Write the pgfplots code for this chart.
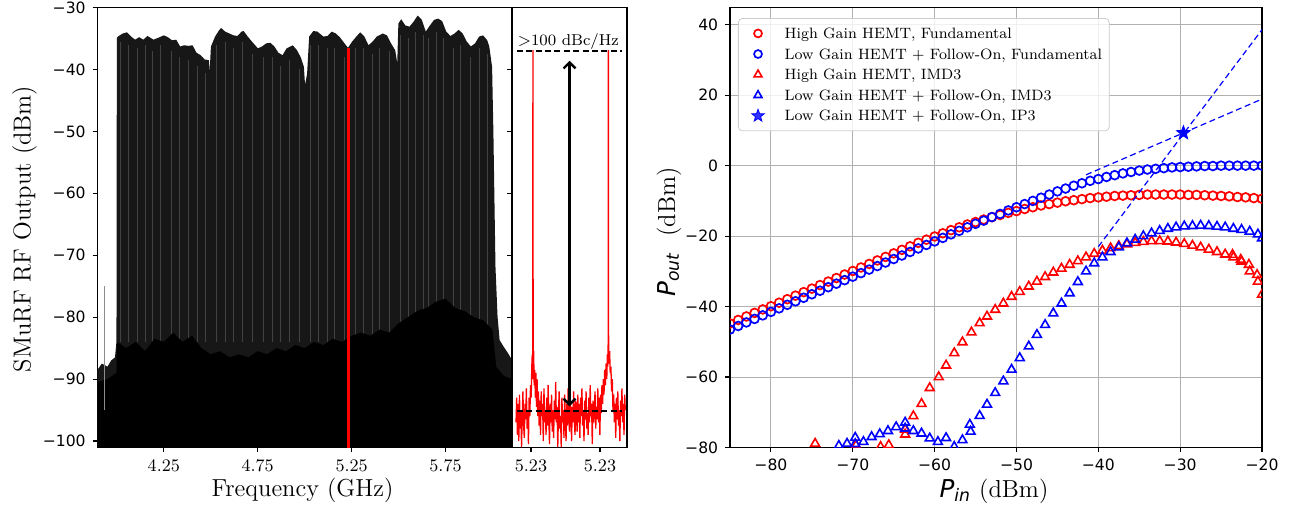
\documentclass[border=0pt]{standalone}
\usepackage{fontspec}
\usepackage{pgfplots}
\pgfplotsset{compat=1.18}
\usetikzlibrary{arrows.meta}
\newfontfamily\djv{DejaVu Sans}

% filled five-point star, like matplotlib's '*'
\pgfdeclareplotmark{fstar}{%
  \pgfpathmoveto{\pgfpointpolar{90}{\pgfplotmarksize}}%
  \pgfpathlineto{\pgfpointpolar{126}{0.42\pgfplotmarksize}}%
  \pgfpathlineto{\pgfpointpolar{162}{\pgfplotmarksize}}%
  \pgfpathlineto{\pgfpointpolar{198}{0.42\pgfplotmarksize}}%
  \pgfpathlineto{\pgfpointpolar{234}{\pgfplotmarksize}}%
  \pgfpathlineto{\pgfpointpolar{270}{0.42\pgfplotmarksize}}%
  \pgfpathlineto{\pgfpointpolar{306}{\pgfplotmarksize}}%
  \pgfpathlineto{\pgfpointpolar{342}{0.42\pgfplotmarksize}}%
  \pgfpathlineto{\pgfpointpolar{18}{\pgfplotmarksize}}%
  \pgfpathlineto{\pgfpointpolar{54}{0.42\pgfplotmarksize}}%
  \pgfpathclose\pgfusepathqfillstroke}

\pgfplotsset{
  every axis/.append style={
    scale only axis, anchor=south west,
    axis line style={line width=0.55pt},
    tick style={line width=0.55pt, black},
    major tick length=2.4pt, tick align=outside,
    xtick pos=left, ytick pos=left,
  },
}
\newcommand{\tickcm}{\fontsize{8.8}{10}\selectfont}
\newcommand{\tickdj}{\djv\fontsize{7.8}{9}\selectfont}
\newcommand{\labfont}{\fontsize{12.3}{14}\selectfont}

\begin{document}
\begin{tikzpicture}
\useasboundingbox (0,0) rectangle (644.5pt,254pt);

% ---------------- left: full comb spectrum ----------------
\begin{axis}[
  at={(48.75pt,30.25pt)}, width=207.25pt, height=220pt,
  xmin=3.897, xmax=6.104, ymin=-101.05, ymax=-30,
  xtick={4.25,4.75,5.25,5.75}, xticklabels={4.25,4.75,5.25,5.75},
  xticklabel style={font=\tickcm},
  ytick={-100,-90,-80,-70,-60,-50,-40,-30},
  yticklabels={−100,−90,−80,−70,−60,−50,−40,−30},
  yticklabel style={font=\tickdj},
  unbounded coords=jump,
]
% upper envelope of the tones
\addplot[fill=black!91, draw=none] coordinates {
(3.897,-102) (3.897,-88.5) (3.92,-87.5) (3.95,-88) (3.97,-87) (3.99,-86.5) (3.998,-84)
(4.000,-34.9) (4.010,-34.6) (4.032,-34.2) (4.054,-34.0) (4.076,-34.7) (4.097,-35.2)
(4.119,-34.8) (4.141,-35.2) (4.163,-34.6) (4.195,-35.2) (4.228,-34.8) (4.250,-34.5)
(4.272,-34.8) (4.294,-35.3) (4.316,-35.2) (4.337,-36.3) (4.359,-36.1) (4.381,-36.2)
(4.403,-36.1) (4.424,-37.3) (4.446,-37.7) (4.468,-38.4) (4.490,-38.5) (4.494,-40.4)
(4.501,-36.3) (4.523,-34.7) (4.544,-33.7) (4.555,-33.3) (4.577,-33.9) (4.599,-34.2)
(4.621,-34.5) (4.642,-34.6) (4.664,-33.9) (4.675,-33.8) (4.697,-34.7) (4.719,-35.5)
(4.751,-36.6) (4.773,-36.3) (4.795,-35.8) (4.817,-35.7) (4.839,-36.3) (4.860,-37.3)
(4.882,-37.7) (4.904,-36.6) (4.937,-36.1) (4.959,-36.9) (4.980,-38.1) (4.996,-39.6)
(5.002,-42.5) (5.013,-40.7) (5.024,-34.7) (5.046,-33.8) (5.068,-33.9) (5.100,-34.7)
(5.122,-34.6) (5.144,-33.9) (5.166,-34.2) (5.187,-34.8) (5.220,-36.1) (5.231,-36.5)
(5.253,-35.5) (5.275,-34.7) (5.296,-34.0) (5.318,-34.7) (5.340,-36.1) (5.362,-35.5)
(5.384,-34.7) (5.416,-34.2) (5.438,-34.5) (5.460,-35.8) (5.482,-36.9) (5.493,-39.0)
(5.499,-32.6) (5.514,-31.9) (5.536,-32.9) (5.558,-33.1) (5.580,-32.3) (5.602,-31.3)
(5.624,-32.0) (5.645,-33.9) (5.667,-32.9) (5.689,-32.0) (5.711,-31.8) (5.732,-32.2)
(5.754,-33.9) (5.776,-34.6) (5.798,-34.2) (5.820,-33.6) (5.841,-34.2) (5.863,-35.5)
(5.885,-36.3) (5.907,-35.8) (5.929,-34.7) (5.950,-34.5) (5.972,-35.3) (5.983,-36.3)
(5.998,-39.6) (6.005,-50.3) (6.016,-71.9) (6.027,-79.9) (6.038,-83.7) (6.060,-84.8)
(6.082,-85.8) (6.104,-86.9) (6.104,-102)
} -- cycle;
% a few lighter tone lines
\addplot[black!74, line width=0.3pt] coordinates {
(4.02,-84) (4.02,-35.5) (4.02,nan) (4.06,-84) (4.06,-36) (4.06,nan) (4.11,-84) (4.11,-36.5) (4.11,nan)
(4.15,-84) (4.15,-36) (4.15,nan) (4.19,-84) (4.19,-37) (4.19,nan) (4.23,-84) (4.23,-36) (4.23,nan)
(4.29,-84) (4.29,-37) (4.29,nan) (4.33,-84) (4.33,-38) (4.33,nan) (4.38,-84) (4.38,-38.5) (4.38,nan)
(4.43,-84) (4.43,-39.5) (4.43,nan) (4.47,-84) (4.47,-40.5) (4.47,nan) (4.53,-84) (4.53,-36) (4.53,nan)
(4.58,-84) (4.58,-35.5) (4.58,nan) (4.62,-84) (4.62,-36.5) (4.62,nan) (4.67,-84) (4.67,-35.5) (4.67,nan)
(4.72,-84) (4.72,-37.5) (4.72,nan) (4.78,-84) (4.78,-38) (4.78,nan) (4.83,-84) (4.83,-38) (4.83,nan)
(4.87,-84) (4.87,-39.5) (4.87,nan) (4.92,-84) (4.92,-38.5) (4.92,nan) (4.97,-84) (4.97,-40) (4.97,nan)
(5.03,-84) (5.03,-36) (5.03,nan) (5.07,-84) (5.07,-36) (5.07,nan) (5.12,-84) (5.12,-36.5) (5.12,nan)
(5.16,-84) (5.16,-36.5) (5.16,nan) (5.21,-84) (5.21,-38) (5.21,nan) (5.27,-84) (5.27,-36.5) (5.27,nan)
(5.31,-84) (5.31,-36.5) (5.31,nan) (5.36,-84) (5.36,-37.5) (5.36,nan) (5.40,-84) (5.40,-36.5) (5.40,nan)
(5.45,-84) (5.45,-37) (5.45,nan) (5.51,-84) (5.51,-34.5) (5.51,nan) (5.55,-84) (5.55,-35) (5.55,nan)
(5.59,-84) (5.59,-34) (5.59,nan) (5.63,-84) (5.63,-34.5) (5.63,nan) (5.66,-84) (5.66,-35) (5.66,nan)
(5.70,-84) (5.70,-34) (5.70,nan) (5.74,-84) (5.74,-35) (5.74,nan) (5.79,-84) (5.79,-36.5) (5.79,nan)
(5.83,-84) (5.83,-36) (5.83,nan) (5.88,-84) (5.88,-38) (5.88,nan) (5.93,-84) (5.93,-36.5) (5.93,nan)
(5.97,-84) (5.97,-37.5)
};
% solid noise floor
\addplot[fill=black, draw=none] coordinates {
(3.897,-102) (3.897,-90.5) (3.95,-90) (3.998,-89) (4.00,-84) (4.05,-85) (4.10,-84)
(4.15,-85.5) (4.20,-83.5) (4.25,-84) (4.30,-82.5) (4.35,-84) (4.40,-83) (4.45,-85)
(4.50,-86) (4.55,-85.5) (4.60,-86.5) (4.65,-86) (4.70,-86.5) (4.75,-85.5) (4.80,-86)
(4.85,-85) (4.90,-85.5) (4.95,-84.5) (5.00,-85) (5.05,-84) (5.10,-84.5) (5.15,-83.5)
(5.20,-84) (5.25,-83) (5.30,-82.5) (5.35,-83) (5.40,-82) (5.45,-82.5) (5.50,-81)
(5.55,-80) (5.60,-79) (5.65,-78.5) (5.70,-77.5) (5.75,-77) (5.80,-78.5) (5.85,-79)
(5.90,-80) (5.95,-80.5) (6.00,-82) (6.02,-88) (6.06,-89.5) (6.104,-90) (6.104,-102)
} -- cycle;
\addplot[black!45, line width=0.4pt] coordinates {(3.932,-95) (3.932,-75)};
\addplot[red, line width=1.4pt] coordinates {(5.232,-102) (5.232,-36.5)};
\end{axis}

% ---------------- left inset: one tone ----------------
\begin{axis}[
  at={(256pt,30.25pt)}, width=57.5pt, height=220pt,
  xmin=0, xmax=1, ymin=-101.05, ymax=-30,
  xtick={0.165,0.765}, xticklabels={5.23,5.23},
  xticklabel style={font=\tickcm},
  ytick={-100,-90,-80,-70,-60,-50,-40,-30}, yticklabels={},
]
\addplot[red, line width=0.65pt] coordinates {
(0.035,-97) (0.041,-93) (0.047,-99) (0.053,-94) (0.059,-100) (0.065,-92.5) (0.071,-98)
(0.077,-95) (0.083,-101) (0.089,-96) (0.095,-92) (0.101,-97.5) (0.107,-99.5) (0.113,-94)
(0.119,-96.5) (0.125,-91.5) (0.131,-98) (0.137,-95) (0.143,-100.5) (0.149,-93) (0.155,-96)
(0.161,-91) (0.167,-93) (0.172,-88) (0.176,-86) (0.180,-90) (0.182,-36.9) (0.184,-89)
(0.188,-85.5) (0.193,-91) (0.198,-88.5) (0.203,-93) (0.208,-89) (0.213,-94.5) (0.218,-90)
(0.224,-96) (0.230,-92) (0.236,-97.5) (0.242,-93.5) (0.248,-99) (0.254,-92) (0.260,-96)
(0.266,-94) (0.272,-100) (0.278,-91.5) (0.284,-97) (0.290,-95) (0.296,-99) (0.302,-93)
(0.308,-97.5) (0.314,-91) (0.320,-96) (0.326,-100.5) (0.332,-94) (0.338,-97) (0.344,-92.5)
(0.350,-98.5) (0.356,-95) (0.362,-99.5) (0.368,-93.5) (0.374,-96.5) (0.380,-90.5) (0.386,-97)
(0.392,-94.5) (0.398,-101) (0.404,-95.5) (0.410,-92) (0.416,-98) (0.422,-96) (0.428,-101)
(0.434,-93) (0.440,-97) (0.446,-95) (0.452,-99.5) (0.458,-92.5) (0.464,-96.5) (0.470,-100)
(0.476,-94) (0.482,-97.5) (0.488,-91.5) (0.494,-96) (0.500,-98.5) (0.506,-93) (0.512,-95.5)
(0.518,-100) (0.524,-94.5) (0.530,-97) (0.536,-92) (0.542,-96.5) (0.548,-99) (0.554,-93.5)
(0.560,-95) (0.566,-98.5) (0.572,-92.5) (0.578,-97) (0.584,-94) (0.590,-99.5) (0.596,-93)
(0.602,-96) (0.608,-91.5) (0.614,-97.5) (0.620,-95) (0.626,-100) (0.632,-93.5) (0.638,-96.5)
(0.644,-92) (0.650,-98) (0.656,-95.5) (0.662,-99) (0.668,-93) (0.674,-97) (0.680,-91)
(0.686,-96) (0.692,-94) (0.698,-100.5) (0.704,-93.5) (0.710,-97) (0.716,-95) (0.722,-92)
(0.728,-98) (0.734,-94.5) (0.740,-96.5) (0.746,-91.5) (0.752,-97) (0.758,-93) (0.764,-99)
(0.770,-92.5) (0.776,-95.5) (0.782,-91) (0.788,-94) (0.794,-90) (0.800,-92.5) (0.806,-88.5)
(0.812,-91) (0.818,-87.5) (0.824,-90) (0.829,-86) (0.833,-88) (0.836,-85) (0.838,-36.9)
(0.840,-84.5) (0.844,-87.5) (0.849,-85.5) (0.854,-89) (0.860,-88) (0.866,-92) (0.872,-90)
(0.878,-95) (0.884,-92.5) (0.890,-97) (0.896,-94) (0.902,-99.5) (0.908,-93) (0.914,-96.5)
(0.920,-92) (0.926,-97.5) (0.932,-95) (0.938,-100) (0.944,-93.5) (0.950,-96) (0.956,-91.5)
(0.962,-97) (0.968,-94) (0.974,-99) (0.980,-92.5) (0.985,-95)
};
\addplot[black, line width=1pt, dash pattern=on 3pt off 1.7pt] coordinates {(0.042,-36.95) (0.958,-36.95)};
\addplot[black, line width=1pt, dash pattern=on 3pt off 1.7pt] coordinates {(0.042,-95.1) (0.958,-95.1)};
\draw[line width=1.2pt, {Straight Barb[length=3pt,width=6pt]}-{Straight Barb[length=3pt,width=6pt]}]
  (axis cs:0.5,-38.6) -- (axis cs:0.5,-94.4);
\node[font=\fontsize{7.9}{9}\selectfont, anchor=base, inner sep=0pt] at (axis cs:0.49,-36.1) {$>$100 dBc/Hz};
\end{axis}

\node[rotate=90, font=\labfont] at (12.3pt,139.5pt) {SMuRF RF Output (dBm)};
\node[font=\labfont] at (151.25pt,9pt) {Frequency (GHz)};

% ---------------- right: compression and IP3 ----------------
\begin{axis}[
  at={(365pt,30.25pt)}, width=266pt, height=220pt,
  xmin=-85, xmax=-20, ymin=-80, ymax=44.9,
  xtick={-80,-70,-60,-50,-40,-30,-20},
  xticklabels={−80,−70,−60,−50,−40,−30,−20},
  ytick={-80,-60,-40,-20,0,20,40},
  yticklabels={−80,−60,−40,−20,0,20,40},
  ticklabel style={font=\tickdj},
  grid=major, grid style={line width=0.45pt, black!31},
  clip marker paths=true,
  legend cell align=left,
  legend image code/.code={\path (0pt,0pt) (18.7pt,0pt); \draw[#1, mark options={scale=0.9}] plot coordinates {(7.4pt,0pt)};},
  legend style={at={(axis description cs:0.015,0.976)}, anchor=north west,
    draw=black!20, fill=white, fill opacity=0.8, text opacity=1, rounded corners=2pt,
    font=\fontsize{7.5}{9}\selectfont, inner xsep=2pt, inner ysep=1.2pt, row sep=-2.3pt,
    nodes={inner sep=1.6pt, text height=0.72em, text depth=0.22em}},
]
\addplot[only marks, red, mark=o, mark size=2.2pt, line width=0.85pt] coordinates {
(-85,-44.8) (-84,-43.8) (-83,-42.8) (-82,-41.8) (-81,-40.8) (-80,-39.9) (-79,-38.9) (-78,-37.9)
(-77,-36.9) (-76,-35.9) (-75,-34.9) (-74,-33.9) (-73,-32.9) (-72,-31.9) (-71,-30.9) (-70,-29.9)
(-69,-28.9) (-68,-27.9) (-67,-26.9) (-66,-25.9) (-65,-24.9) (-64,-23.9) (-63,-22.9) (-62,-21.9)
(-61,-21.0) (-60,-20.1) (-59,-19.2) (-58,-18.3) (-57,-17.5) (-56,-16.7) (-55,-16.0) (-54,-15.3)
(-53,-14.6) (-52,-14.0) (-51,-13.4) (-50,-12.9) (-49,-12.3) (-48,-11.8) (-47,-11.3) (-46,-10.9)
(-45,-10.5) (-44,-10.1) (-43,-9.8) (-42,-9.5) (-41,-9.2) (-40,-9.0) (-39,-8.8) (-38,-8.6)
(-37,-8.5) (-36,-8.4) (-35,-8.3) (-34,-8.2) (-33,-8.2) (-32,-8.2) (-31,-8.2) (-30,-8.2)
(-29,-8.3) (-28,-8.3) (-27,-8.4) (-26,-8.5) (-25,-8.6) (-24,-8.7) (-23,-8.9) (-22,-9.0)
(-21,-9.2) (-20,-9.4)
};
\addlegendentry{High Gain HEMT, Fundamental}
\addplot[only marks, blue, mark=o, mark size=2.2pt, line width=0.85pt] coordinates {
(-85,-46.5) (-84,-45.5) (-83,-44.5) (-82,-43.5) (-81,-42.5) (-80,-41.5) (-79,-40.5) (-78,-39.5)
(-77,-38.5) (-76,-37.5) (-75,-36.5) (-74,-35.5) (-73,-34.5) (-72,-33.5) (-71,-32.5) (-70,-31.5)
(-69,-30.5) (-68,-29.5) (-67,-28.5) (-66,-27.5) (-65,-26.5) (-64,-25.5) (-63,-24.5) (-62,-23.5)
(-61,-22.5) (-60,-21.5) (-59,-20.5) (-58,-19.5) (-57,-18.5) (-56,-17.5) (-55,-16.5) (-54,-15.6)
(-53,-14.6) (-52,-13.7) (-51,-12.7) (-50,-11.8) (-49,-10.9) (-48,-10.0) (-47,-9.1) (-46,-8.2)
(-45,-7.3) (-44,-6.5) (-43,-5.7) (-42,-5.0) (-41,-4.3) (-40,-3.8) (-39,-3.2) (-38,-2.7)
(-37,-2.2) (-36,-1.8) (-35,-1.4) (-34,-1.1) (-33,-0.9) (-32,-0.7) (-31,-0.5) (-30,-0.4)
(-29,-0.3) (-28,-0.2) (-27,-0.1) (-26,-0.1) (-25,0) (-24,0) (-23,0) (-22,0) (-21,0) (-20,0)
};
\addlegendentry{Low Gain HEMT + Follow-On, Fundamental}
\addplot[only marks, red, mark=triangle, mark size=2.55pt, line width=0.8pt] coordinates {
(-74.6,-78.9) (-72.6,-80.3) (-71.6,-80.4) (-70.6,-80.2) (-69.6,-79.4) (-67.6,-80.3) (-66.6,-79.8)
(-65.6,-79.3) (-64.6,-80.3) (-63.6,-76.3) (-63.6,-74.9) (-62.6,-71.1) (-61.6,-67.6) (-60.6,-63.1)
(-59.5,-60.0) (-58.6,-56.7) (-57.6,-53.2) (-56.6,-50.1) (-55.5,-47.3) (-54.5,-44.7) (-53.6,-42.8)
(-52.6,-40.9) (-51.6,-39.1) (-50.6,-37.2) (-49.6,-35.8) (-48.5,-34.3) (-47.5,-32.9) (-46.5,-31.6)
(-45.5,-30.3) (-44.5,-29.2) (-43.5,-28.1) (-42.5,-27.1) (-41.5,-26.0) (-40.5,-25.0) (-39.5,-24.1)
(-38.5,-23.4) (-37.5,-22.8) (-36.5,-22.3) (-35.5,-21.9) (-34.5,-21.6) (-33.5,-21.4) (-32.5,-21.4)
(-31.5,-21.5) (-30.5,-21.8) (-29.5,-22.2) (-28.5,-22.7) (-27.5,-23.2) (-26.5,-23.8) (-25.5,-24.5)
(-24.5,-25.2) (-23.6,-25.3) (-23.5,-26.0) (-22.6,-26.7) (-22.5,-27.2) (-21.6,-28.1) (-21.5,-30.0)
(-20.6,-31.0) (-20.5,-32.9) (-20.0,-36.6)
};
\addlegendentry{High Gain HEMT, IMD3}
\addplot[only marks, blue, mark=triangle, mark size=2.55pt, line width=0.8pt] coordinates {
(-72.8,-80.2) (-71.7,-79.5) (-70.7,-78.9) (-69.7,-77.2) (-69.7,-79.0) (-68.7,-78.4) (-67.7,-77.0)
(-66.7,-76.2) (-65.7,-75.3) (-64.7,-74.2) (-63.6,-72.9) (-63.6,-74.6) (-62.6,-75.3) (-61.6,-76.0)
(-60.6,-77.4) (-59.6,-78.4) (-58.6,-77.3) (-57.6,-79.8) (-56.6,-77.9) (-55.7,-73.5) (-55.6,-75.5)
(-54.5,-71.0) (-53.6,-67.8) (-52.6,-64.5) (-51.6,-61.2) (-50.6,-57.9) (-49.6,-54.6) (-48.5,-51.3)
(-47.5,-48.0) (-46.5,-45.2) (-45.5,-41.9) (-44.5,-39.1) (-43.5,-36.2) (-42.5,-33.0) (-41.5,-30.0)
(-40.5,-27.7) (-39.5,-26.0) (-38.5,-24.5) (-37.5,-23.2) (-36.5,-22.0) (-35.5,-21.0) (-34.5,-20.0)
(-33.5,-19.2) (-32.5,-18.5) (-31.5,-17.9) (-30.5,-17.5) (-29.5,-17.2) (-28.5,-17.1) (-27.5,-17.0)
(-26.5,-17.1) (-25.5,-17.3) (-24.5,-17.5) (-23.5,-17.9) (-22.5,-18.2) (-21.5,-18.7) (-20.5,-19.5)
(-20.0,-20.6)
};
\addlegendentry{Low Gain HEMT + Follow-On, IMD3}
\addplot[only marks, blue, mark=fstar, mark size=3.6pt, line width=0.4pt] coordinates {(-29.6,9.3)};
\addlegendentry{Low Gain HEMT + Follow-On, IP3}
\addplot[forget plot, blue, line width=0.6pt, dash pattern=on 3pt off 1.8pt] coordinates {(-41.5,-2.6) (-20,18.9)};
\addplot[forget plot, blue, line width=0.6pt, dash pattern=on 3pt off 1.8pt] coordinates {(-40,-23.0) (-20,38.6)};
\end{axis}

\node[rotate=90, font=\labfont] at (334.5pt,138pt) {{\djv\itshape P\textsubscript{out}}\ \ (dBm)};
\node[font=\labfont] at (497pt,8.5pt) {{\djv\itshape P\textsubscript{in}} (dBm)};
\end{tikzpicture}
\end{document}
